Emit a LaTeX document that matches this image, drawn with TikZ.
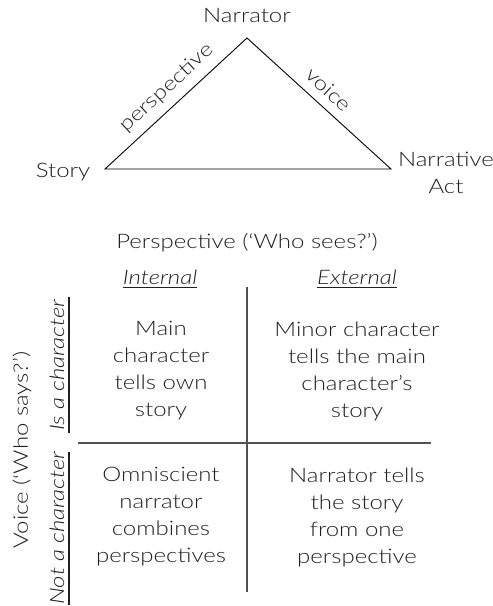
\documentclass[tikz,border=0pt]{standalone}
\usepackage{fontspec}
\setmainfont{Lato}[UprightFont={* Light}, ItalicFont={* Light Italic}, FakeStretch=1.2]
\begin{document}
\begin{tikzpicture}[x=1pt, y=-1pt,
  txt/.style={font=\fontsize{20}{27}\selectfont, text=black!88, inner sep=0pt, align=center},
  head/.style={txt, font=\fontsize{20}{27}\selectfont\itshape},
  edge/.style={draw=black, line width=0.9pt},
  grid/.style={draw=black!68, line width=2.6pt},
  rule/.style={draw=black!88, line width=1.8pt}]
\useasboundingbox (0,0) rectangle (493,606);

% narrative triangle
\coordinate (apex) at (247,38);
\coordinate (left) at (105,169);
\coordinate (right) at (391,169);
\node[txt] (narrator) at (247,16) {Narrator};
\node[txt] (story) at (63,172) {Story};
\node[txt] (act) at (446,173) {Narrative\\Act};
\draw[edge] (left) -- node[txt, sloped, pos=0.52, above=8pt] {perspective} (apex)
                  -- node[txt, sloped, pos=0.49, above=9pt] {voice} (right)
                  -- cycle;

% perspective / voice matrix
\node[txt] (persp) at (247,243) {Perspective (`Who sees?')};
\node[head] (internal) at (160,277) {Internal};
\node[head] (external) at (357,277) {External};
\draw[rule] (internal.south west) ++(0,3) coordinate (iu1) -- (internal.south east |- iu1);
\draw[rule] (external.south west) ++(0,3) coordinate (eu1) -- (external.south east |- eu1);

\coordinate (vtop) at (247,287);
\coordinate (vbot) at (247,592);
\coordinate (hl) at (78,443);
\coordinate (hr) at (431,443);
\draw[grid] (vtop) -- (vbot);
\draw[grid] (hl) -- (hr);

\node[txt, rotate=90] (voice) at (22,450) {Voice (`Who says?')};
\node[head, rotate=90] (isch) at (57,365) {Is a character};
\node[head, rotate=90] (notch) at (57,528) {Not a character};
\coordinate (r1a) at (69,297);
\coordinate (r1b) at (69,433);
\coordinate (r2a) at (69,452);
\coordinate (r2b) at (69,605);
\draw[rule] (r1a) -- (r1b);
\draw[rule] (r2a) -- (r2b);

\node[txt] (c11) at (161,371) {Main\\character\\tells own\\story};
\node[txt] (c12) at (357,371) {Minor character\\tells the main\\character's\\story};
\node[txt] (c21) at (161,517) {Omniscient\\narrator\\combines\\perspectives};
\node[txt] (c22) at (357,517) {Narrator tells\\the story\\from one\\perspective};
\end{tikzpicture}
\end{document}
